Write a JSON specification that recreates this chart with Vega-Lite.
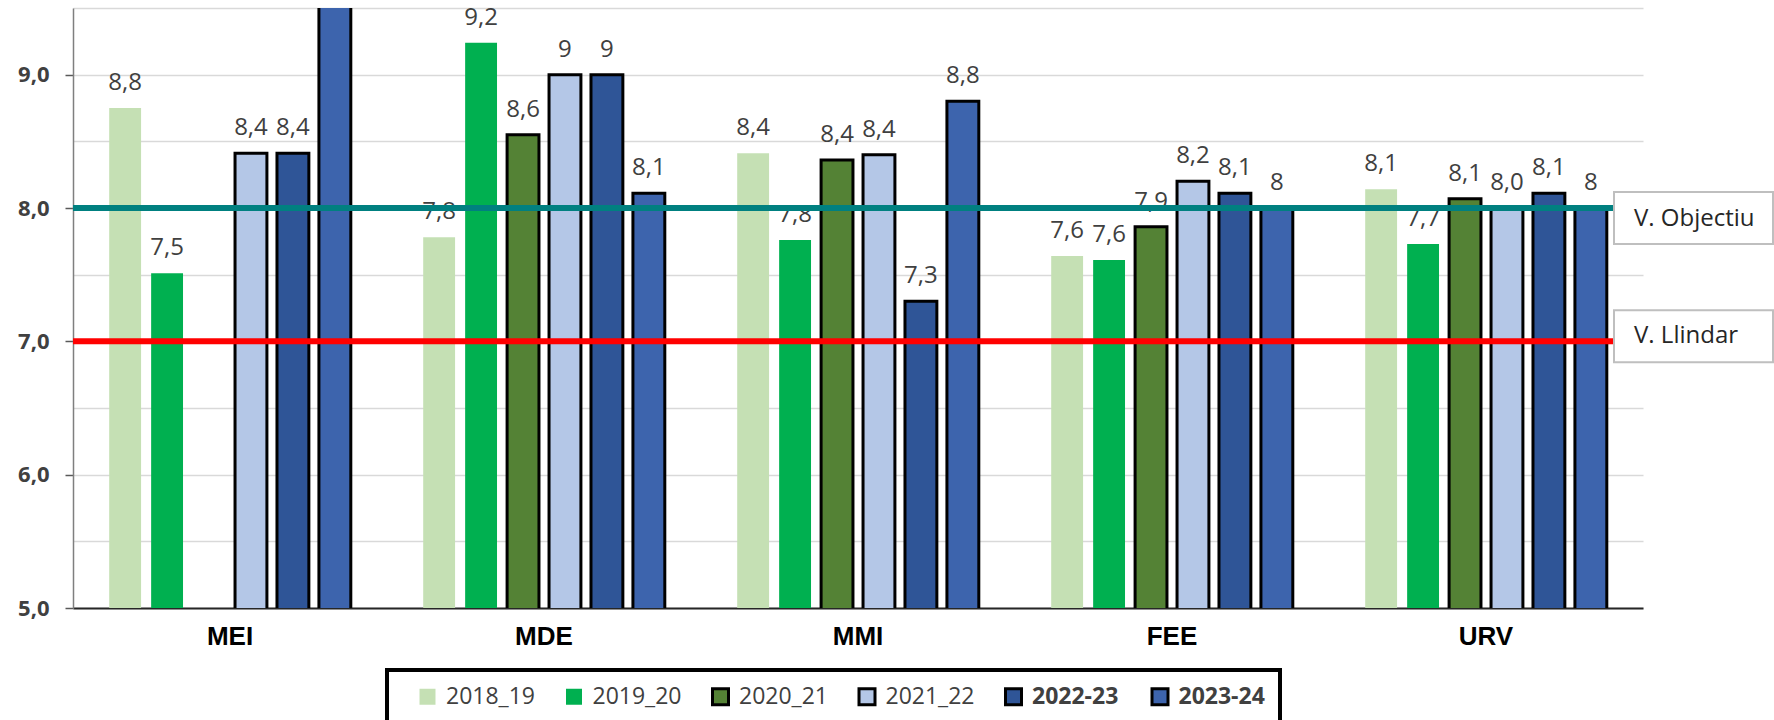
{
  "$schema": "https://vega.github.io/schema/vega-lite/v6.json",
  "autosize": {"type": "none"},
  "padding": {"left": 73, "top": 8, "right": 131, "bottom": 112},
  "width": 1570,
  "height": 600,
  "background": "white",
  "config": {"font": "Open Sans", "view": {"stroke": null}},
  "datasets": {
    "scores": [
      {"unit": "MEI", "year": "2018_19", "score": 8.75, "label": "8,8"},
      {"unit": "MEI", "year": "2019_20", "score": 7.51, "label": "7,5"},
      {"unit": "MEI", "year": "2021_22", "score": 8.41, "label": "8,4"},
      {"unit": "MEI", "year": "2022-23", "score": 8.41, "label": "8,4"},
      {"unit": "MEI", "year": "2023-24", "score": 9.7, "label": ""},
      {"unit": "MDE", "year": "2018_19", "score": 7.78, "label": "7,8"},
      {"unit": "MDE", "year": "2019_20", "score": 9.24, "label": "9,2"},
      {"unit": "MDE", "year": "2020_21", "score": 8.55, "label": "8,6"},
      {"unit": "MDE", "year": "2021_22", "score": 9.0, "label": "9"},
      {"unit": "MDE", "year": "2022-23", "score": 9.0, "label": "9"},
      {"unit": "MDE", "year": "2023-24", "score": 8.11, "label": "8,1"},
      {"unit": "MMI", "year": "2018_19", "score": 8.41, "label": "8,4"},
      {"unit": "MMI", "year": "2019_20", "score": 7.76, "label": "7,8"},
      {"unit": "MMI", "year": "2020_21", "score": 8.36, "label": "8,4"},
      {"unit": "MMI", "year": "2021_22", "score": 8.4, "label": "8,4"},
      {"unit": "MMI", "year": "2022-23", "score": 7.3, "label": "7,3"},
      {"unit": "MMI", "year": "2023-24", "score": 8.8, "label": "8,8"},
      {"unit": "FEE", "year": "2018_19", "score": 7.64, "label": "7,6"},
      {"unit": "FEE", "year": "2019_20", "score": 7.61, "label": "7,6"},
      {"unit": "FEE", "year": "2020_21", "score": 7.86, "label": "7,9"},
      {"unit": "FEE", "year": "2021_22", "score": 8.2, "label": "8,2"},
      {"unit": "FEE", "year": "2022-23", "score": 8.11, "label": "8,1"},
      {"unit": "FEE", "year": "2023-24", "score": 8.0, "label": "8"},
      {"unit": "URV", "year": "2018_19", "score": 8.14, "label": "8,1"},
      {"unit": "URV", "year": "2019_20", "score": 7.73, "label": "7,7"},
      {"unit": "URV", "year": "2020_21", "score": 8.07, "label": "8,1"},
      {"unit": "URV", "year": "2021_22", "score": 8.0, "label": "8,0"},
      {"unit": "URV", "year": "2022-23", "score": 8.11, "label": "8,1"},
      {"unit": "URV", "year": "2023-24", "score": 8.0, "label": "8"}
    ],
    "targets": [
      {"label": "V. Objectiu", "value": 8},
      {"label": "V. Llindar", "value": 7}
    ]
  },
  "layer": [
    {
      "data": {"name": "scores"},
      "mark": {"type": "bar", "strokeWidth": 3, "clip": true},
      "encoding": {
        "x": {
          "field": "unit", "type": "nominal", "sort": ["MEI", "MDE", "MMI", "FEE", "URV"],
          "scale": {"paddingInner": 0, "paddingOuter": 0},
          "axis": {
            "title": null, "ticks": false, "tickSize": 0, "domain": true, "domainColor": "#262626", "domainWidth": 2,
            "labelFont": "Liberation Sans", "labelFontWeight": "bold", "labelFontSize": 26, "labelColor": "#000000",
            "labelPadding": 15, "labelAngle": 0
          }
        },
        "xOffset": {
          "field": "year", "type": "nominal",
          "scale": {"domain": ["2018_19", "2019_20", "2020_21", "2021_22", "2022-23", "2023-24"], "paddingInner": 0.24, "paddingOuter": 0.863}
        },
        "y": {
          "field": "score", "type": "quantitative",
          "scale": {"domain": [5, 9.5], "nice": false, "zero": false},
          "axis": {
            "title": null,
            "values": [5, 5.25, 5.5, 5.75, 6, 6.25, 6.5, 6.75, 7, 7.25, 7.5, 7.75, 8, 8.25, 8.5, 8.75, 9, 9.25, 9.5],
            "labelExpr": "datum.value % 1 === 0 ? replace(format(datum.value, '.1f'), '.', ',') : ''",
            "labelOverlap": false, "labelFlush": false,
            "grid": true, "gridColor": "#D9D9D9", "gridWidth": 1.5,
            "domainColor": "#7F7F7F", "domainWidth": 1.5,
            "tickSize": 8, "tickColor": "#595959", "tickWidth": 1.5,
            "tickOpacity": {"condition": {"test": "datum.value % 1 !== 0", "value": 0}, "value": 1},
            "labelFont": "Open Sans", "labelFontWeight": "bold", "labelFontSize": 22, "labelColor": "#404040", "labelPadding": 16
          }
        },
        "color": {
          "field": "year", "type": "nominal",
          "scale": {
            "domain": ["2018_19", "2019_20", "2020_21", "2021_22", "2022-23", "2023-24"],
            "range": ["#C5E0B4", "#00B050", "#548235", "#B4C7E7", "#2F5597", "#3D64AD"]
          },
          "legend": {
            "title": " ", "titleOrient": "left", "titleFontSize": 1, "titlePadding": 14,
            "orient": "none", "legendX": 314, "legendY": 662, "direction": "horizontal", "columns": 6,
            "gridAlign": "all", "columnPadding": 24.5,
            "symbolType": "square", "symbolSize": 256, "symbolStrokeWidth": 3,
            "labelFont": "Open Sans", "labelFontSize": 23, "labelColor": "#404040", "labelOffset": 7,
            "padding": 15, "strokeColor": "#000000", "fillColor": "white",
            "encode": {
              "legend": {"update": {"strokeWidth": {"value": 4}}},
              "labels": {"update": {"fontWeight": {"signal": "indexof(['2022-23', '2023-24'], datum.label) >= 0 ? 'bold' : 'normal'"}}}
            }
          }
        },
        "stroke": {
          "field": "year", "type": "nominal",
          "scale": {
            "domain": ["2018_19", "2019_20", "2020_21", "2021_22", "2022-23", "2023-24"],
            "range": ["transparent", "transparent", "#000000", "#000000", "#000000", "#000000"]
          },
          "legend": {
            "title": " ", "titleOrient": "left", "titleFontSize": 1, "titlePadding": 14,
            "orient": "none", "legendX": 314, "legendY": 662, "direction": "horizontal", "columns": 6,
            "gridAlign": "all", "columnPadding": 24.5,
            "symbolType": "square", "symbolSize": 256, "symbolStrokeWidth": 3,
            "labelFont": "Open Sans", "labelFontSize": 23, "labelColor": "#404040", "labelOffset": 7,
            "padding": 15, "strokeColor": "#000000", "fillColor": "white",
            "encode": {
              "legend": {"update": {"strokeWidth": {"value": 4}}},
              "labels": {"update": {"fontWeight": {"signal": "indexof(['2022-23', '2023-24'], datum.label) >= 0 ? 'bold' : 'normal'"}}}
            }
          }
        }
      }
    },
    {
      "data": {"name": "scores"},
      "mark": {"type": "text", "dy": -25, "baseline": "middle", "align": "center", "fontSize": 24, "font": "Open Sans", "color": "#404040"},
      "encoding": {
        "x": {"field": "unit", "type": "nominal", "sort": ["MEI", "MDE", "MMI", "FEE", "URV"], "title": null},
        "xOffset": {"field": "year", "type": "nominal"},
        "y": {"field": "score", "type": "quantitative", "title": null},
        "text": {"field": "label"}
      }
    },
    {
      "data": {"name": "targets"},
      "mark": {"type": "rule", "strokeWidth": 6, "color": {"expr": "datum.label === 'V. Objectiu' ? '#008080' : '#FF0000'"}},
      "encoding": {
        "y": {"field": "value", "type": "quantitative", "title": null}
      }
    },
    {
      "data": {"name": "targets"},
      "mark": {
        "type": "point", "shape": "M-1,-0.327H1V0.327H-1Z", "size": 25281, "filled": true,
        "fill": "white", "stroke": "#BFBFBF", "strokeWidth": 2, "opacity": 1, "fillOpacity": 1, "strokeOpacity": 1,
        "xOffset": 50.5,
        "yOffset": {"expr": "datum.label === 'V. Objectiu' ? 10 : -5"}
      },
      "encoding": {
        "x": {"value": "width"},
        "y": {"field": "value", "type": "quantitative", "title": null}
      }
    },
    {
      "data": {"name": "targets"},
      "mark": {
        "type": "text", "align": "left", "baseline": "middle", "fontSize": 24, "font": "Open Sans", "color": "#262626",
        "xOffset": -9,
        "yOffset": {"expr": "datum.label === 'V. Objectiu' ? 11 : -5"}
      },
      "encoding": {
        "x": {"value": "width"},
        "y": {"field": "value", "type": "quantitative", "title": null},
        "text": {"field": "label"}
      }
    }
  ]
}
